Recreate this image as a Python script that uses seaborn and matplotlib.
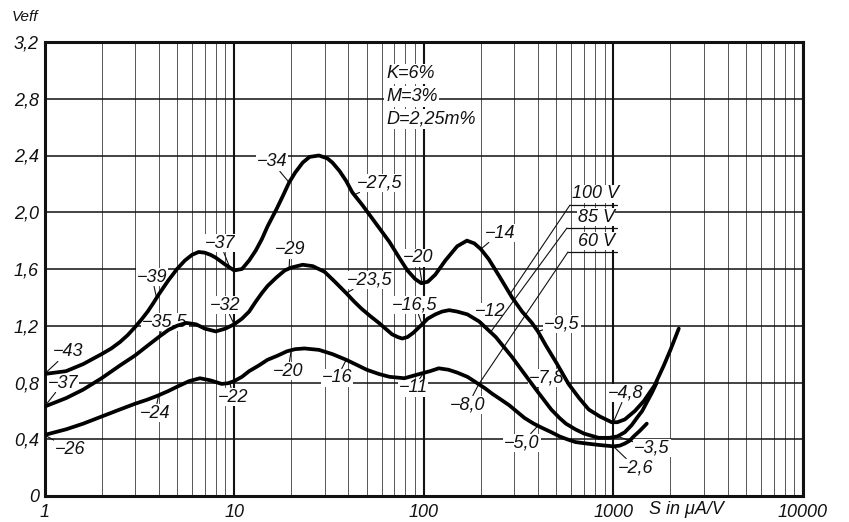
import numpy as np
import pandas as pd
import matplotlib
matplotlib.use("Agg")
import matplotlib.pyplot as plt
import seaborn as sns
from matplotlib.ticker import FixedLocator, FixedFormatter, LogLocator, NullFormatter

# Slope S (µA/V) and effective signal voltage Veff for three anode voltages
s_100 = [1, 1.3, 1.6, 2, 2.25, 2.5, 2.75, 3, 3.25, 3.5, 3.75, 4, 4.5, 5, 5.5, 6, 6.5, 7, 7.5,
         8, 9, 10, 11, 12, 13, 14, 15, 16.7, 18, 19.5, 21, 23, 25, 28, 31, 33, 36, 39, 42,
         47.5, 56, 66, 75, 82, 90, 97, 105, 115, 130, 150, 169, 185, 200, 220, 250, 292, 330,
         372, 400, 441, 500, 580, 660, 741, 850, 980, 1050, 1150, 1300, 1449, 1650, 1845,
         2000, 2213]
v_100 = [0.86, 0.88, 0.93, 1.00, 1.04, 1.085, 1.135, 1.19, 1.245, 1.30, 1.36, 1.42, 1.52,
         1.60, 1.66, 1.70, 1.72, 1.715, 1.70, 1.68, 1.63, 1.59, 1.60, 1.66, 1.73, 1.81, 1.90,
         2.02, 2.11, 2.21, 2.28, 2.35, 2.39, 2.40, 2.38, 2.35, 2.29, 2.22, 2.14, 2.05, 1.92,
         1.79, 1.67, 1.59, 1.53, 1.50, 1.51, 1.56, 1.66, 1.76, 1.80, 1.78, 1.74, 1.67, 1.55,
         1.40, 1.30, 1.22, 1.16, 1.06, 0.94, 0.79, 0.69, 0.61, 0.56, 0.52, 0.52, 0.54, 0.60,
         0.67, 0.78, 0.92, 1.03, 1.18]

s_85 = [1, 1.3, 1.6, 2, 2.5, 3, 3.5, 4, 4.5, 5, 5.6, 6.3, 7, 8, 9, 10, 11, 12, 13, 14, 15,
        16.7, 18.5, 20, 23, 26, 30, 34, 39, 43, 47, 52, 58, 68, 73, 77, 82, 88, 98, 105, 115,
        125, 136, 150, 170, 196, 240, 292, 340, 391, 470, 520, 562, 630, 700, 836, 950, 1050,
        1150, 1250, 1330, 1420, 1500, 1600, 1694]
v_85 = [0.63, 0.69, 0.75, 0.83, 0.92, 0.99, 1.06, 1.12, 1.17, 1.20, 1.22, 1.21, 1.18, 1.16,
        1.18, 1.21, 1.25, 1.30, 1.37, 1.43, 1.48, 1.54, 1.59, 1.61, 1.63, 1.62, 1.58, 1.51,
        1.43, 1.37, 1.32, 1.27, 1.22, 1.14, 1.12, 1.11, 1.12, 1.15, 1.21, 1.25, 1.28, 1.30,
        1.31, 1.30, 1.28, 1.23, 1.12, 0.98, 0.86, 0.75, 0.61, 0.55, 0.51, 0.47, 0.44, 0.41,
        0.41, 0.42, 0.45, 0.50, 0.55, 0.60, 0.66, 0.73, 0.80]

s_60 = [1, 1.3, 1.6, 2, 2.5, 3, 3.5, 4, 4.5, 5, 5.8, 6.6, 7.5, 8.6, 9.3, 10, 11, 12, 13.5, 15,
        17, 19, 21, 23.5, 28, 33, 39, 45, 50, 58, 66, 79, 95, 108, 120, 135, 150, 170, 189,
        210, 230, 255, 282, 340, 380, 421, 470, 520, 570, 632, 720, 836, 1000, 1080, 1150,
        1220, 1280, 1380, 1500]
v_60 = [0.43, 0.47, 0.51, 0.56, 0.61, 0.65, 0.68, 0.71, 0.74, 0.77, 0.81, 0.83, 0.815, 0.79,
        0.795, 0.81, 0.84, 0.88, 0.92, 0.96, 0.99, 1.02, 1.035, 1.04, 1.03, 1.00, 0.96, 0.92,
        0.89, 0.86, 0.84, 0.83, 0.86, 0.88, 0.90, 0.89, 0.87, 0.84, 0.80, 0.76, 0.72, 0.68,
        0.64, 0.55, 0.51, 0.48, 0.45, 0.42, 0.40, 0.38, 0.37, 0.36, 0.35, 0.355, 0.37, 0.39,
        0.42, 0.46, 0.51]

curve_names = ["100V", "85V", "60V"]

# Grid voltage labels along the curves
grid_labels = ["−43", "−39", "−37", "−34", "−27,5", "−20", "−14", "−9,5", "−4,8",
               "−37", "−35,5", "−32", "−29", "−23,5", "−16,5", "−12", "−7,8", "−3,5",
               "−26", "−24", "−22", "−20", "−16", "−11", "−8,0", "−5,0", "−2,6"]
grid_label_curve = ["100V"] * 9 + ["85V"] * 9 + ["60V"] * 9
grid_label_s = [1, 3.9, 9.5, 19.5, 43, 98, 200, 400, 1000,
                1, 4, 10, 19.5, 39, 98, 190, 390, 1050,
                1, 4, 9.5, 20, 39, 100, 195, 400, 1000]

x_ticks = [1, 10, 100, 1000, 10000]
x_tick_labels = ["1", "10", "100", "1000", "10000"]
y_ticks = [0, 0.4, 0.8, 1.2, 1.6, 2.0, 2.4, 2.8, 3.2]
y_tick_labels = ["0", "0,4", "0,8", "1,2", "1,6", "2,0", "2,4", "2,8", "3,2"]

params = ["K=6%", "M=3%", "D=2,25m%"]

# ---------------------------------------------------------------------------
df = pd.concat([
    pd.DataFrame({"S": s_100, "Veff": v_100, "Ua": "100V"}),
    pd.DataFrame({"S": s_85, "Veff": v_85, "Ua": "85V"}),
    pd.DataFrame({"S": s_60, "Veff": v_60, "Ua": "60V"}),
], ignore_index=True)
series = {"100V": (s_100, v_100), "85V": (s_85, v_85), "60V": (s_60, v_60)}

sns.set_theme(style="white")
plt.rcParams["font.family"] = ["Liberation Sans", "DejaVu Sans"]
plt.rcParams["font.style"] = "italic"

W, H = 849, 522
fig = plt.figure(figsize=(W / 100, H / 100), dpi=100)
fig.patch.set_facecolor("white")
ax = fig.add_axes([44.5 / W, 1 - 496 / H, (803 - 44.5) / W, (496 - 42) / H])

sns.lineplot(data=df, x="S", y="Veff", hue="Ua", hue_order=curve_names,
             palette=["black"] * 3, estimator=None, legend=False,
             linewidth=2.7, zorder=4, ax=ax)
for ln in ax.get_lines():
    ln.set_solid_joinstyle("round")
    ln.set_solid_capstyle("round")

ax.set_xscale("log")
ax.set_xlim(1, 10000)
ax.set_ylim(0, 3.2)
ax.xaxis.set_major_locator(FixedLocator(x_ticks))
ax.xaxis.set_major_formatter(FixedFormatter(x_tick_labels))
ax.xaxis.set_minor_locator(LogLocator(base=10, subs=np.arange(2, 10)))
ax.xaxis.set_minor_formatter(NullFormatter())
ax.yaxis.set_major_locator(FixedLocator(y_ticks))
ax.yaxis.set_major_formatter(FixedFormatter(y_tick_labels))
ax.set_xlabel("")
ax.set_ylabel("")

ax.grid(which="major", axis="x", color="#111111", linewidth=1.5)
ax.grid(which="minor", axis="x", color="#555555", linewidth=0.7)
ax.grid(which="major", axis="y", color="#111111", linewidth=1.1)
ax.set_axisbelow(True)

ax.tick_params(axis="both", which="both", length=0, labelsize=13, colors="#111111")
ax.tick_params(axis="y", pad=4)
ax.tick_params(axis="x", pad=6)
for sp in ax.spines.values():
    sp.set_visible(True)
    sp.set_color("#111111")
    sp.set_linewidth(2.2)

# axis titles
fig.text(12 / W, 1 - 17 / H, "Veff", fontsize=11, ha="left", va="center", color="#111111")
fig.text(686 / W, 1 - 510 / H, "S in μA/V", fontsize=13, ha="center", va="center",
         color="#111111")

# tube parameters
for i, t in enumerate(params):
    fig.text(386 / W, 1 - (74 + 22.5 * i) / H, t, fontsize=13, ha="left", va="center",
             color="#111111", zorder=3,
             bbox=dict(boxstyle="square,pad=0.1", fc="white", ec="none"))

def curve_y(name, s):
    xs, ys = series[name]
    return float(np.interp(np.log10(s), np.log10(xs), ys))

# grid voltage annotations: text centre in figure pixels (from the top)
label_pos = [(68, 352), (152, 277), (220, 243), (272, 162), (380, 183), (418, 258),
             (500, 233), (562, 324), (626, 393),
             (63, 383), (165, 322), (225, 305), (290, 250), (370, 280), (415, 305),
             (490, 312), (547, 378), (652, 448),
             (70, 449), (155, 413), (233, 397), (288, 371), (337, 378), (413, 388),
             (468, 405), (522, 443), (636, 468)]
for txt, name, s, (px, py) in zip(grid_labels, grid_label_curve, grid_label_s, label_pos):
    ax.annotate(txt, xy=(s, curve_y(name, s)), xycoords="data",
                xytext=(px, H - py), textcoords="figure pixels",
                fontsize=13, ha="center", va="center", color="#111111", zorder=3,
                bbox=dict(boxstyle="square,pad=0.05", fc="white", ec="none"),
                arrowprops=dict(arrowstyle="-", lw=0.8, color="#111111",
                                shrinkA=0, shrinkB=0))

# anode voltage tags with underline and leader to each curve
tag_anchor_s = {"100V": 285, "85V": 225, "60V": 195}
tag_line_y = {"100V": 205, "85V": 228, "60V": 252}
tag_line_x0 = {"100V": 570, "85V": 567, "60V": 568}
for name in curve_names:
    y0 = tag_line_y[name]
    x0 = tag_line_x0[name]
    s = tag_anchor_s[name]
    ax.annotate("", xy=(s, curve_y(name, s)), xycoords="data",
                xytext=(x0, H - y0), textcoords="figure pixels",
                arrowprops=dict(arrowstyle="-", lw=0.8, color="#111111",
                                shrinkA=0, shrinkB=0), zorder=3)
    fig.add_artist(plt.Line2D([x0 / W, 617 / W], [1 - y0 / H, 1 - y0 / H],
                              color="#111111", lw=0.9, zorder=5))
    fig.text(596 / W, 1 - (y0 - 11) / H, name.replace("V", " V"), fontsize=13,
             ha="center", va="center", color="#111111", zorder=5,
             bbox=dict(boxstyle="square,pad=0.05", fc="white", ec="none"))

fig.savefig("out.png", dpi=100, facecolor="white")
